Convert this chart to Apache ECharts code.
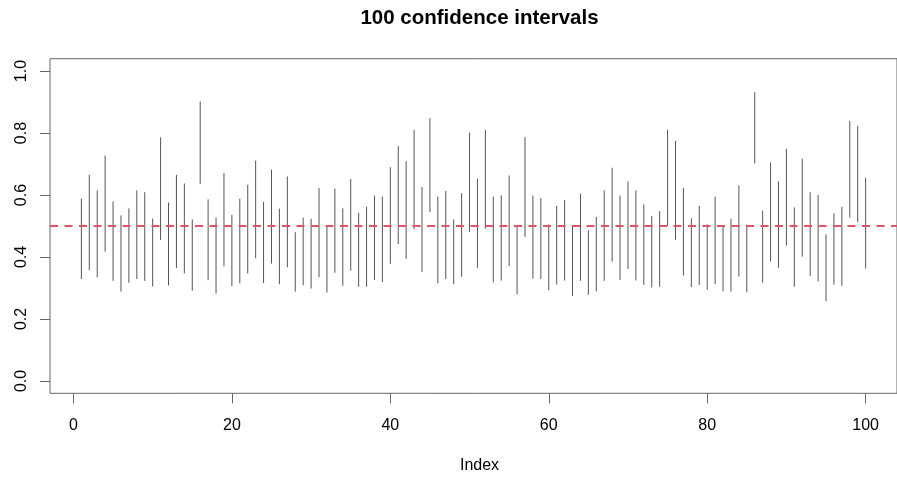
<!DOCTYPE html>
<html>
<head>
<meta charset="utf-8">
<script src="https://cdn.jsdelivr.net/npm/echarts@6/dist/echarts.min.js"></script>
<style>
html,body{margin:0;padding:0;background:#fff;}
#chart{width:897px;height:477px;}
</style>
</head>
<body>
<div id="chart"></div>
<script>
var titleText = '100 confidence intervals';
var xLabel = 'Index';
var xTicks = [0, 20, 40, 60, 80, 100];
var yTicks = [0, 0.2, 0.4, 0.6, 0.8, 1.0];
var trueValue = 0.5;

var upper = [
  0.588, 0.665, 0.615, 0.727, 0.579, 0.534, 0.557, 0.615, 0.609, 0.524,
  0.786, 0.576, 0.665, 0.637, 0.521, 0.902, 0.586, 0.527, 0.671, 0.536,
  0.588, 0.633, 0.711, 0.578, 0.682, 0.556, 0.660, 0.480, 0.527, 0.523,
  0.623, 0.499, 0.621, 0.557, 0.652, 0.543, 0.562, 0.598, 0.595, 0.690,
  0.758, 0.709, 0.810, 0.626, 0.848, 0.595, 0.613, 0.521, 0.606, 0.801,
  0.652, 0.810, 0.595, 0.599, 0.663, 0.500, 0.787, 0.598, 0.590, 0.505,
  0.565, 0.584, 0.498, 0.605, 0.486, 0.529, 0.615, 0.688, 0.598, 0.644,
  0.615, 0.570, 0.532, 0.548, 0.811, 0.775, 0.623, 0.525, 0.565, 0.505,
  0.595, 0.501, 0.523, 0.631, 0.504, 0.932, 0.550, 0.705, 0.644, 0.749,
  0.560, 0.718, 0.609, 0.600, 0.473, 0.541, 0.562, 0.839, 0.824, 0.656
];
var lower = [
  0.329, 0.357, 0.334, 0.417, 0.323, 0.288, 0.317, 0.329, 0.323, 0.305,
  0.455, 0.308, 0.364, 0.347, 0.291, 0.636, 0.325, 0.282, 0.370, 0.306,
  0.315, 0.347, 0.396, 0.316, 0.379, 0.312, 0.367, 0.288, 0.309, 0.298,
  0.335, 0.285, 0.349, 0.307, 0.356, 0.304, 0.304, 0.326, 0.319, 0.378,
  0.442, 0.394, 0.489, 0.352, 0.545, 0.315, 0.329, 0.312, 0.336, 0.481,
  0.365, 0.491, 0.318, 0.324, 0.371, 0.279, 0.465, 0.330, 0.329, 0.293,
  0.311, 0.324, 0.274, 0.323, 0.278, 0.289, 0.323, 0.385, 0.326, 0.361,
  0.324, 0.310, 0.302, 0.304, 0.500, 0.456, 0.340, 0.303, 0.310, 0.294,
  0.312, 0.289, 0.288, 0.337, 0.286, 0.702, 0.317, 0.386, 0.365, 0.437,
  0.304, 0.401, 0.339, 0.321, 0.257, 0.311, 0.307, 0.527, 0.512, 0.363
];

var data = lower.map(function (lo, i) { return [i + 1, lo, upper[i]]; });

var chart = echarts.init(document.getElementById('chart'), null, {renderer: 'canvas'});
var font = 'Liberation Sans, Arial, Helvetica, sans-serif';
chart.setOption({
  animation: false,
  backgroundColor: '#fff',
  graphic: [
    {type: 'text', x: 479.5, y: 18, style: {text: titleText, font: 'bold 20.5px ' + font, fill: '#000', textAlign: 'center', textVerticalAlign: 'middle'}},
    {type: 'text', x: 479.5, y: 466, style: {text: xLabel, font: '16px ' + font, fill: '#000', textAlign: 'center', textVerticalAlign: 'middle'}}
  ],
  grid: {left: 50, top: 58.7, width: 859, height: 334.6, show: true, borderColor: '#666', borderWidth: 1, backgroundColor: 'transparent'},
  xAxis: {
    type: 'value', min: -2.96, max: 103.96,
    splitLine: {show: false},
    axisLine: {show: false, onZero: false},
    axisTick: {show: true, customValues: xTicks, length: 10, lineStyle: {color: '#666'}},
    axisLabel: {show: true, customValues: xTicks, margin: 24, fontSize: 16, fontFamily: font, color: '#000'}
  },
  yAxis: {
    type: 'value', min: -0.04, max: 1.04,
    splitLine: {show: false},
    axisLine: {show: false, onZero: false},
    axisTick: {show: true, customValues: yTicks, length: 10, lineStyle: {color: '#666'}},
    axisLabel: {show: true, customValues: yTicks, rotate: 90, margin: 20, fontSize: 16, fontFamily: font, color: '#000',
      formatter: function (v) { return v.toFixed(1); }}
  },
  series: [{
    type: 'custom',
    data: data,
    encode: {x: 0, y: [1, 2]},
    renderItem: function (params, api) {
      var p1 = api.coord([api.value(0), api.value(1)]);
      var p2 = api.coord([api.value(0), api.value(2)]);
      return {type: 'line', shape: {x1: p1[0], y1: p1[1], x2: p2[0], y2: p2[1]},
        style: {stroke: '#555', lineWidth: 1}};
    },
    markLine: {
      silent: true, symbol: 'none', label: {show: false},
      lineStyle: {color: '#DF536B', type: [8, 6.5], width: 2},
      data: [{yAxis: trueValue}]
    }
  }]
});
</script>
</body>
</html>
